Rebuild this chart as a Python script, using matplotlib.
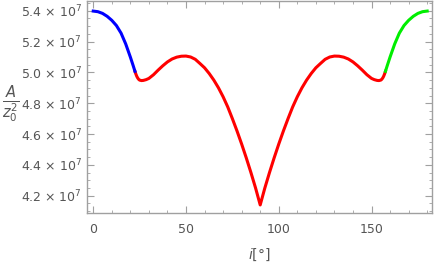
import matplotlib
matplotlib.use('Agg')
import matplotlib.pyplot as plt
import numpy as np

plt.rcParams['mathtext.fontset'] = 'dejavusans'

# angle in degrees (in units of 1e7)
angle = [0, 2.5, 5, 7.5, 10, 12.5, 15, 17.5, 20, 21.5, 22.5, 23, 23.5, 24,
         24.5, 25, 26, 27, 28.5, 30, 32.5, 35, 37.5, 40, 42.5, 45, 47.5, 50,
         52.5, 55, 57.5, 60, 62.5, 65, 67.5, 70, 72.5, 75, 77.5, 80, 82.5,
         85, 87.5, 90,
         92.5, 95, 97.5, 100, 102.5, 105, 107.5, 110, 112.5, 115, 117.5,
         120, 122.5, 125, 127.5, 130, 132.5, 135, 137.5, 140, 142.5, 145,
         147.5, 150, 151.5, 153, 154, 155, 155.5, 156, 156.5, 157, 157.5,
         158.5, 160, 162.5, 165, 167.5, 170, 172.5, 175, 177.5, 180]
area = [5.398, 5.394, 5.383, 5.364, 5.338, 5.304, 5.255, 5.185, 5.100, 5.045,
        5.007, 4.989, 4.974, 4.963, 4.955, 4.950, 4.947, 4.948, 4.953, 4.961,
        4.985, 5.015, 5.043, 5.068, 5.087, 5.099, 5.105, 5.106, 5.100, 5.085,
        5.058, 5.030, 4.993, 4.950, 4.900, 4.842, 4.776, 4.700, 4.620, 4.535,
        4.445, 4.350, 4.250, 4.140,
        4.250, 4.350, 4.445, 4.535, 4.620, 4.700, 4.776, 4.842, 4.900, 4.950,
        4.993, 5.030, 5.058, 5.085, 5.100, 5.106, 5.105, 5.099, 5.087, 5.068,
        5.043, 5.015, 4.985, 4.961, 4.953, 4.948, 4.947, 4.950, 4.955, 4.963,
        4.974, 4.989, 5.007, 5.045, 5.100, 5.185, 5.255, 5.304, 5.338, 5.364,
        5.383, 5.394, 5.398]
blue_end = 22.5
green_start = 157.5

xticks = [0, 50, 100, 150]
yticks = [4.2, 4.4, 4.6, 4.8, 5.0, 5.2, 5.4]
ylabels = [r'%.1f $\times$ 10$^{7}$' % v for v in yticks]

x = np.array(angle)
y = np.array(area) * 1e7

fig = plt.figure(figsize=(4.36, 2.62), dpi=100)
ax = fig.add_axes([0.2002, 0.186, 0.7898, 0.81])

blue = x <= blue_end
red = (x >= blue_end) & (x <= green_start)
green = x >= green_start
ax.plot(x[red], y[red], color='#ff0000', lw=2.2, solid_joinstyle='round')
ax.plot(x[blue], y[blue], color='#0000ff', lw=2.2, solid_joinstyle='round')
ax.plot(x[green], y[green], color='#00ee00', lw=2.2, solid_joinstyle='round')

ax.set_xlim(-3.2, 182.4)
ax.set_ylim(4.086e7, 5.463e7)

ax.set_xticks(xticks)
ax.set_xticks(np.arange(0, 181, 10), minor=True)
ax.set_yticks([v * 1e7 for v in yticks])
ax.set_yticklabels(ylabels)
ax.set_yticks(np.arange(4.1, 5.46, 0.05) * 1e7, minor=True)

fc = '#a0a0a0'
for s in ax.spines.values():
    s.set_color(fc)
    s.set_linewidth(1.0)
ax.tick_params(which='both', direction='in', color=fc, top=True, right=True,
               labelcolor='#555555', labelsize=9)
ax.tick_params(which='major', length=5, width=0.8)
ax.tick_params(which='minor', length=2.5, width=0.6)
ax.tick_params(axis='x', pad=7, labelsize=9)
ax.tick_params(axis='y', pad=4)

ax.set_xlabel(r'$i$[°]', color='#555555', fontsize=10, labelpad=8)
fig.text(0.024, 0.6, r'$\frac{A}{z_0^2}$', color='#555555', fontsize=15,
         ha='center', va='center')

fig.savefig('out.png', dpi=100)
